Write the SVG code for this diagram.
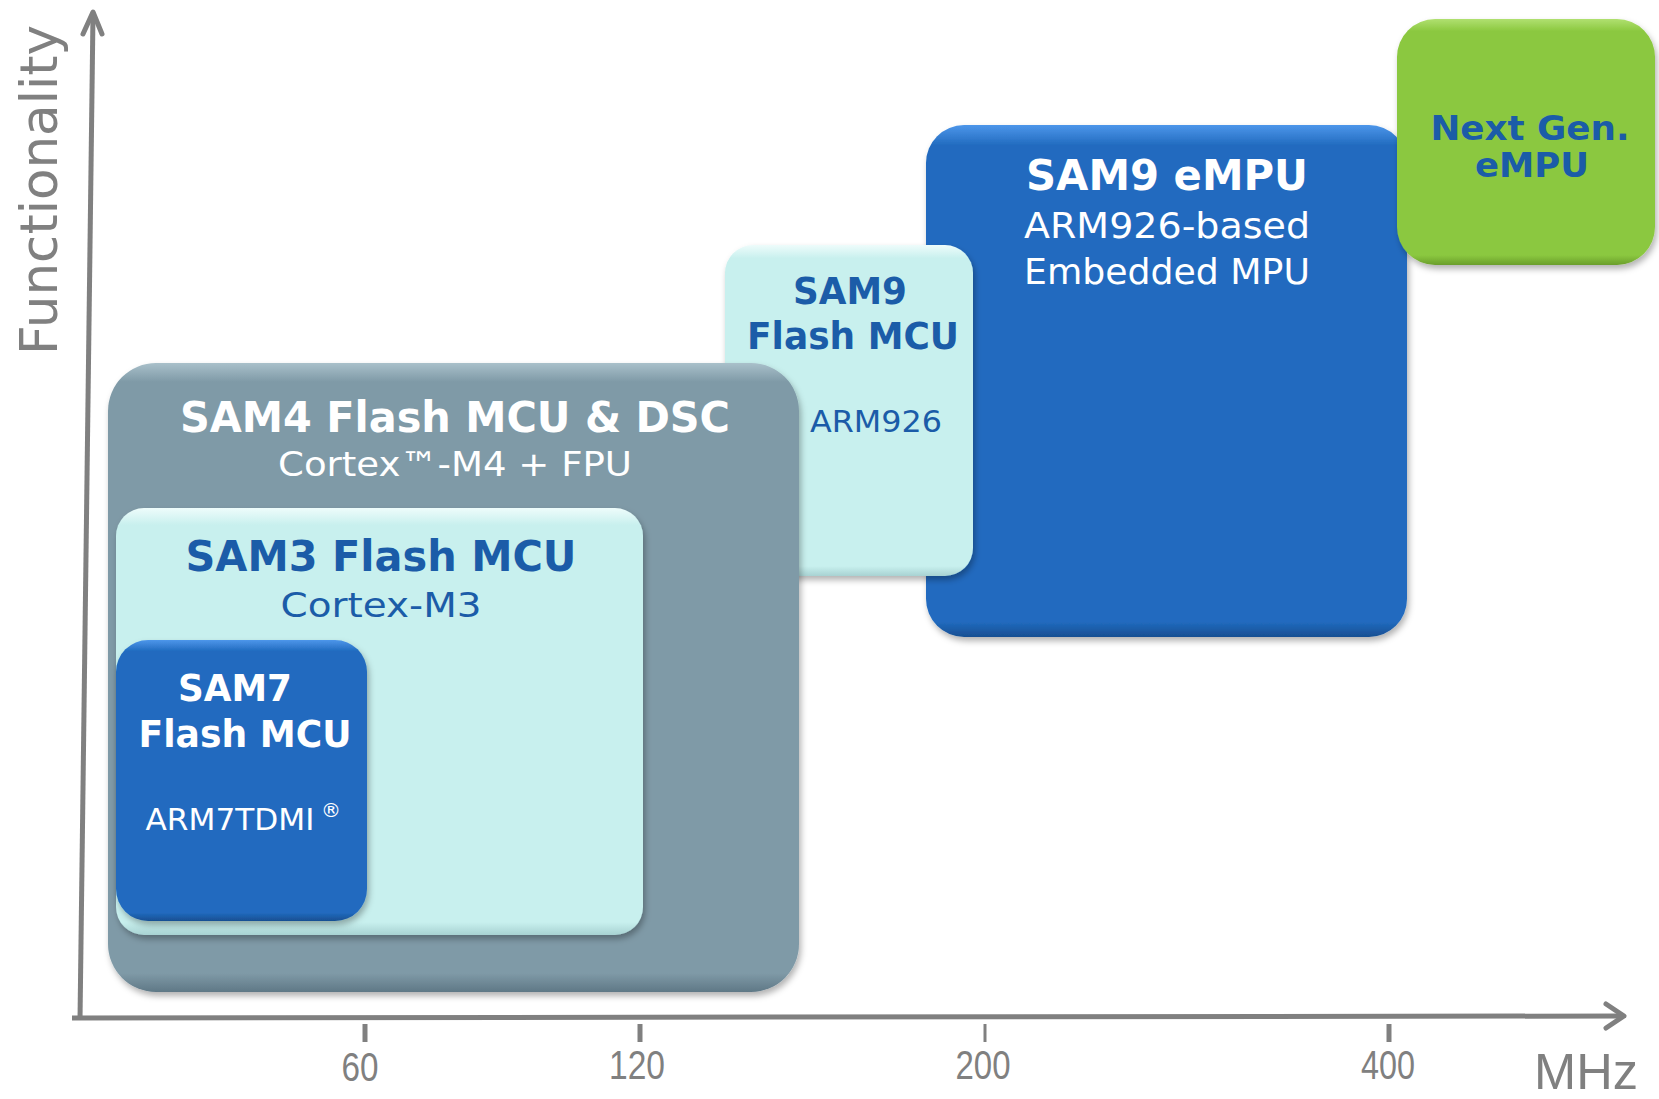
<svg xmlns="http://www.w3.org/2000/svg" width="1659" height="1099" viewBox="0 0 1659 1099">
<defs>
<style>
.t{font-family:"DejaVu Sans","Verdana",sans-serif;text-anchor:middle}
.b{font-weight:bold}
.w{fill:#ffffff}
.db{fill:#1b5ca8}
.ax{font-family:"Liberation Sans","Arial",sans-serif;fill:#808080;text-anchor:middle}
.axl{stroke:#808080;fill:none;stroke-width:5}
</style>
<filter id="sh" x="-10%" y="-10%" width="125%" height="125%">
<feDropShadow dx="2" dy="4" stdDeviation="3" flood-color="#000" flood-opacity="0.3"/>
</filter>
<linearGradient id="gGray" x1="0" y1="0" x2="0" y2="1">
<stop offset="0" stop-color="#a9c0ca"/><stop offset="0.03" stop-color="#7f9aa7"/><stop offset="0.97" stop-color="#7f9aa7"/><stop offset="1" stop-color="#5f7886"/>
</linearGradient>
<linearGradient id="gCyan" x1="0" y1="0" x2="0" y2="1">
<stop offset="0" stop-color="#eefcfb"/><stop offset="0.04" stop-color="#c8f0ee"/><stop offset="0.97" stop-color="#c8f0ee"/><stop offset="1" stop-color="#a8d2d2"/>
</linearGradient>
<linearGradient id="gBlue" x1="0" y1="0" x2="0" y2="1">
<stop offset="0" stop-color="#4d96ea"/><stop offset="0.04" stop-color="#216bbf"/><stop offset="0.97" stop-color="#216bbf"/><stop offset="1" stop-color="#184f92"/>
</linearGradient>
<linearGradient id="gGreen" x1="0" y1="0" x2="0" y2="1">
<stop offset="0" stop-color="#b0e070"/><stop offset="0.05" stop-color="#8bc83f"/><stop offset="0.96" stop-color="#8bc83f"/><stop offset="1" stop-color="#6a9e2c"/>
</linearGradient>
</defs>
<rect width="1659" height="1099" fill="#ffffff"/>

<g id="axes">
<line class="axl" x1="80" y1="1020" x2="93" y2="14"/>
<polyline class="axl" points="83,34 93,12 102,34" stroke-linejoin="round" stroke-linecap="round"/>
<line class="axl" x1="72" y1="1018" x2="1622" y2="1016"/>
<polyline class="axl" points="1606,1004 1624,1016 1606,1028" stroke-linejoin="round" stroke-linecap="round"/>
<line x1="365" y1="1024" x2="365" y2="1042" stroke="#808080" stroke-width="5"/>
<line x1="640" y1="1024" x2="640" y2="1042" stroke="#808080" stroke-width="5"/>
<line x1="985" y1="1024" x2="985" y2="1042" stroke="#808080" stroke-width="3"/>
<line x1="1389" y1="1024" x2="1389" y2="1042" stroke="#808080" stroke-width="5"/>
<text class="ax" x="360" y="1081" font-size="40" textLength="37" lengthAdjust="spacingAndGlyphs">60</text>
<text class="ax" x="637" y="1079" font-size="40" textLength="56" lengthAdjust="spacingAndGlyphs">120</text>
<text class="ax" x="983" y="1079" font-size="40" textLength="55" lengthAdjust="spacingAndGlyphs">200</text>
<text class="ax" x="1388" y="1079" font-size="40" textLength="54" lengthAdjust="spacingAndGlyphs">400</text>
<text class="ax" x="1586" y="1089" font-size="50" textLength="104" lengthAdjust="spacingAndGlyphs">MHz</text>
<text class="t" x="0" y="0" font-size="52" fill="#808080" transform="translate(57,190) rotate(-90)" textLength="330" lengthAdjust="spacingAndGlyphs">Functionality</text>
</g>

<g id="sam9-empu">
<rect x="926" y="125" width="481" height="512" rx="38" fill="url(#gBlue)" filter="url(#sh)"/>
<text class="t b w" x="1167" y="190" font-size="42" textLength="282" lengthAdjust="spacingAndGlyphs">SAM9 eMPU</text>
<text class="t w" x="1167" y="238" font-size="35" textLength="286" lengthAdjust="spacingAndGlyphs">ARM926-based</text>
<text class="t w" x="1167" y="284" font-size="35" textLength="286" lengthAdjust="spacingAndGlyphs">Embedded MPU</text>
</g>

<g id="next-gen">
<rect x="1397" y="19" width="258" height="246" rx="38" fill="url(#gGreen)" filter="url(#sh)"/>
<text class="t b db" x="1530" y="140" font-size="34" textLength="199" lengthAdjust="spacingAndGlyphs">Next Gen.</text>
<text class="t b db" x="1532" y="177" font-size="34" textLength="114" lengthAdjust="spacingAndGlyphs">eMPU</text>
</g>

<g id="sam9-flash">
<rect x="725" y="245" width="248" height="331" rx="28" fill="url(#gCyan)" filter="url(#sh)"/>
<text class="t b db" x="850" y="304" font-size="37" textLength="114" lengthAdjust="spacingAndGlyphs">SAM9</text>
<text class="t b db" x="853" y="349" font-size="37" textLength="212" lengthAdjust="spacingAndGlyphs">Flash MCU</text>
<text class="t db" x="876" y="432" font-size="30" textLength="132" lengthAdjust="spacingAndGlyphs">ARM926</text>
</g>

<g id="sam4">
<rect x="108" y="363" width="691" height="629" rx="48" fill="url(#gGray)" filter="url(#sh)"/>
<text class="t b w" x="455" y="432" font-size="42" textLength="550" lengthAdjust="spacingAndGlyphs">SAM4 Flash MCU &amp; DSC</text>
<text class="t w" x="455" y="476" font-size="34" textLength="354" lengthAdjust="spacingAndGlyphs">Cortex™-M4 + FPU</text>
</g>

<g id="sam3">
<rect x="116" y="508" width="527" height="427" rx="28" fill="url(#gCyan)" filter="url(#sh)"/>
<text class="t b db" x="381" y="571" font-size="42" textLength="391" lengthAdjust="spacingAndGlyphs">SAM3 Flash MCU</text>
<text class="t db" x="381" y="617" font-size="34" textLength="201" lengthAdjust="spacingAndGlyphs">Cortex-M3</text>
</g>

<g id="sam7">
<rect x="116" y="640" width="251" height="281" rx="32" fill="url(#gBlue)" filter="url(#sh)"/>
<text class="t b w" x="235" y="701" font-size="37" textLength="114" lengthAdjust="spacingAndGlyphs">SAM7</text>
<text class="t b w" x="245" y="747" font-size="37" textLength="213" lengthAdjust="spacingAndGlyphs">Flash MCU</text>
<text class="t w" x="230" y="830" font-size="30" textLength="169" lengthAdjust="spacingAndGlyphs">ARM7TDMI</text>
<text class="t w" x="331" y="817" font-size="20">®</text>
</g>
</svg>
